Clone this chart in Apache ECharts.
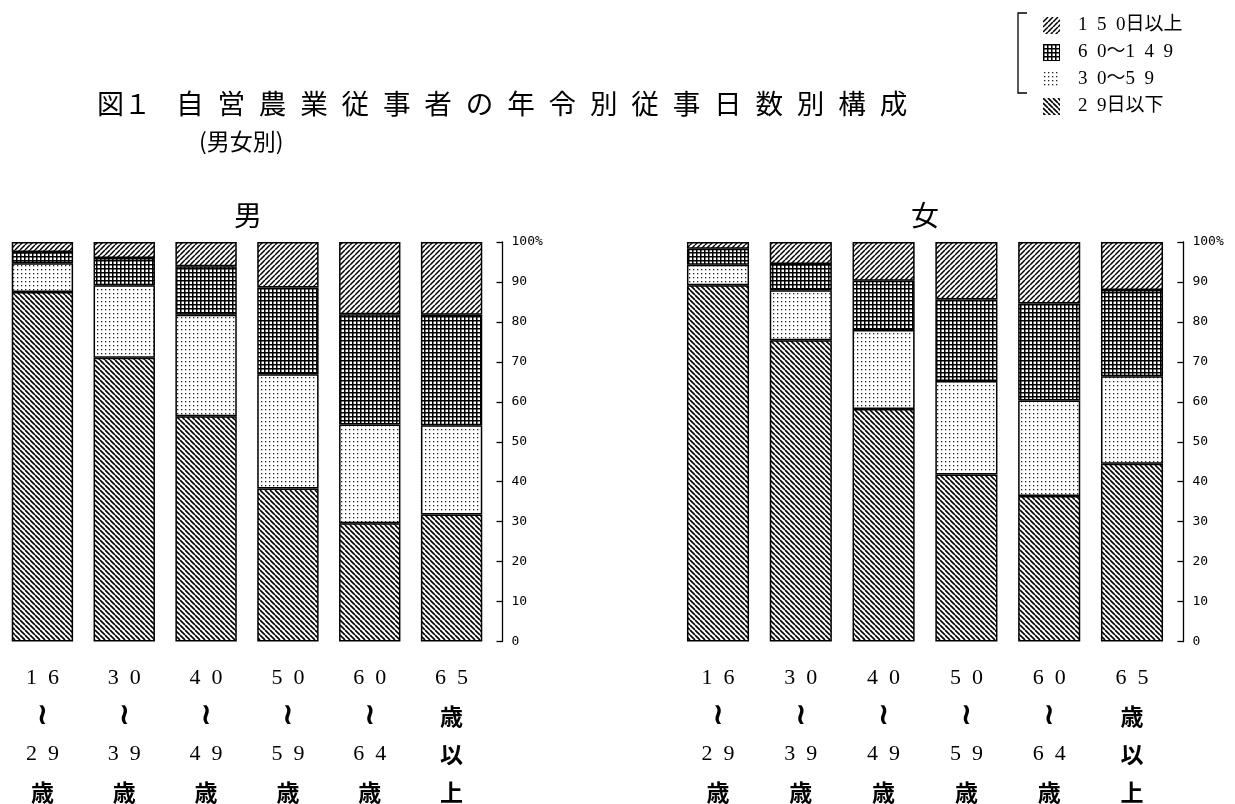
<!DOCTYPE html>
<html>
<head>
<meta charset="utf-8">
<script src="https://cdn.jsdelivr.net/npm/echarts@6/dist/echarts.min.js"></script>
<style>
html,body{margin:0;padding:0;background:#fff;}
#chart{width:1235px;height:804px;}
</style>
</head>
<body>
<div id="chart"></div>
<script>
// ---- data ----
const categories = ['16〜29歳', '30〜39歳', '40〜49歳', '50〜59歳', '60〜64歳', '65歳以上'];
const ageLabelLines = [
  ['16', '〜', '29', '歳'],
  ['30', '〜', '39', '歳'],
  ['40', '〜', '49', '歳'],
  ['50', '〜', '59', '歳'],
  ['60', '〜', '64', '歳'],
  ['65', '歳', '以', '上']
];
const seriesNames = ['29日以下', '30〜59', '60〜149', '150日以上'];
const legendOrder = ['150日以上', '60〜149', '30〜59', '29日以下'];

// 男 (percent)
const male29 =  [87.5, 71.0, 56.4, 38.3, 29.6, 31.8];
const male59 =  [7.2, 18.2, 25.4, 28.6, 24.7, 22.3];
const male149 = [2.8, 6.8, 12.1, 21.7, 27.6, 27.7];
const male150 = [2.5, 4.0, 6.1, 11.4, 18.1, 18.2];

// 女 (percent)
const female29 =  [89.2, 75.4, 58.2, 41.8, 36.4, 44.5];
const female59 =  [5.1, 12.5, 19.8, 23.4, 23.9, 21.9];
const female149 = [4.0, 6.6, 12.3, 20.4, 24.3, 21.6];
const female150 = [1.7, 5.5, 9.7, 14.4, 15.4, 12.0];

// ---- patterns ----
function makeCanvas(n) {
  const c = document.createElement('canvas');
  c.width = n; c.height = n;
  const ctx = c.getContext('2d');
  ctx.fillStyle = '#fff';
  ctx.fillRect(0, 0, n, n);
  return [c, ctx];
}
function diagPattern(forward, n, lw) {
  const [c, ctx] = makeCanvas(n);
  ctx.strokeStyle = '#000';
  ctx.lineWidth = lw;
  ctx.beginPath();
  for (let k = -1; k <= 1; k++) {
    if (forward) {
      ctx.moveTo(k * n, n); ctx.lineTo(k * n + n, 0);
    } else {
      ctx.moveTo(k * n, 0); ctx.lineTo(k * n + n, n);
    }
  }
  ctx.stroke();
  return { image: c, repeat: 'repeat' };
}
function gridPattern() {
  const [c, ctx] = makeCanvas(4);
  ctx.fillStyle = '#000';
  ctx.fillRect(0, 0, 4, 1.5);
  ctx.fillRect(0, 0, 1.5, 4);
  return { image: c, repeat: 'repeat' };
}
function dotPattern() {
  const [c, ctx] = makeCanvas(4);
  ctx.fillStyle = '#222';
  ctx.fillRect(1, 1, 1.3, 1.3);
  return { image: c, repeat: 'repeat' };
}
const patterns = {
  '29日以下': diagPattern(false, 5, 1.6),
  '30〜59': dotPattern(),
  '60〜149': gridPattern(),
  '150日以上': diagPattern(true, 5, 1.5)
};

const maleData = { '29日以下': male29, '30〜59': male59, '60〜149': male149, '150日以上': male150 };
const femaleData = { '29日以下': female29, '30〜59': female59, '60〜149': female149, '150日以上': female150 };

function spacedDigits(s) {
  return s.replace(/(\d)(?=\d)/g, '$1\u2002');
}
function catLabel(value, index) {
  return ageLabelLines[index].map(function (t) {
    if (/^\d+$/.test(t)) return '{d|' + spacedDigits(t) + '}';
    if (t === '〜') return '{w|≀}';
    return '{k|' + t + '}';
  }).join('\n');
}

const chart = echarts.init(document.getElementById('chart'));

const grids = [
  { left: 1.5, top: 242, width: 491, height: 402 },
  { left: 676.6, top: 242, width: 496.8, height: 401 }
];

function xAxisFor(i) {
  return {
    type: 'category', gridIndex: i, data: categories,
    axisLine: { show: false }, axisTick: { show: false },
    axisLabel: {
      margin: 18, interval: 0, formatter: catLabel, color: '#000',
      rich: {
        d: { fontFamily: 'Liberation Serif', fontSize: 22, lineHeight: 38, color: '#000' },
        w: { fontFamily: 'DejaVu Sans', fontSize: 30, fontWeight: 'bold', lineHeight: 38, color: '#000' },
        k: { fontFamily: 'Noto Sans CJK JP', fontSize: 23, fontWeight: 'bold', lineHeight: 38, color: '#000' }
      }
    }
  };
}
function yAxisFor(i) {
  return {
    type: 'value', gridIndex: i, position: 'right', offset: 10,
    min: 0, max: 100, interval: 10,
    axisLine: { show: true, lineStyle: { color: '#000', width: 1.3 } },
    axisTick: { show: true, inside: true, length: 6, lineStyle: { color: '#000', width: 1.3 } },
    splitLine: { show: false },
    axisLabel: {
      margin: 9, color: '#000', fontFamily: 'DejaVu Sans Mono', fontSize: 13,
      formatter: function (v) { return v === 100 ? '100%' : String(v); }
    }
  };
}

const series = [];
[maleData, femaleData].forEach(function (dataSet, gi) {
  seriesNames.forEach(function (name) {
    series.push({
      name: name, type: 'bar', stack: 'g' + gi,
      xAxisIndex: gi, yAxisIndex: gi,
      data: dataSet[name],
      barCategoryGap: '25%',
      itemStyle: { color: patterns[name], borderColor: '#000', borderWidth: 1.5 },
      emphasis: { disabled: true }
    });
  });
});

const titleFont = { fontFamily: 'Noto Sans CJK JP', fontWeight: 'normal', color: '#000' };

chart.setOption({
  backgroundColor: '#fff',
  animation: false,
  title: [
    { text: '図１', left: 92, top: 85, textStyle: Object.assign({ fontSize: 27 }, titleFont) },
    { text: '自営農業従事者の年令別従事日数別構成'.split('').join('\u2002'), left: 171, top: 85,
      textStyle: Object.assign({ fontSize: 27.6 }, titleFont) },
    { text: '(男女別)', left: 194, top: 125, textStyle: Object.assign({ fontSize: 23 }, titleFont) },
    { text: '男', left: 243, top: 196, textAlign: 'center', textStyle: Object.assign({ fontSize: 28 }, titleFont) },
    { text: '女', left: 920, top: 196, textAlign: 'center', textStyle: Object.assign({ fontSize: 28 }, titleFont) }
  ],
  legend: {
    data: legendOrder, orient: 'vertical', left: 1038, top: 11,
    icon: 'rect', itemWidth: 17, itemHeight: 17, itemGap: 8,
    selectedMode: false,
    itemStyle: { borderWidth: 0 },
    formatter: function (n) { return spacedDigits(n); },
    textStyle: { fontFamily: 'Liberation Serif, Noto Sans CJK JP', fontSize: 19, color: '#000', padding: [0, 0, 0, 13] }
  },
  graphic: [
    { type: 'polyline', silent: true,
      shape: { points: [[1027, 13], [1018, 13], [1018, 93], [1027, 93]] },
      style: { stroke: '#000', lineWidth: 1.3, fill: null } }
  ],
  grid: grids,
  xAxis: [xAxisFor(0), xAxisFor(1)],
  yAxis: [yAxisFor(0), yAxisFor(1)],
  series: series
});
</script>
</body>
</html>
